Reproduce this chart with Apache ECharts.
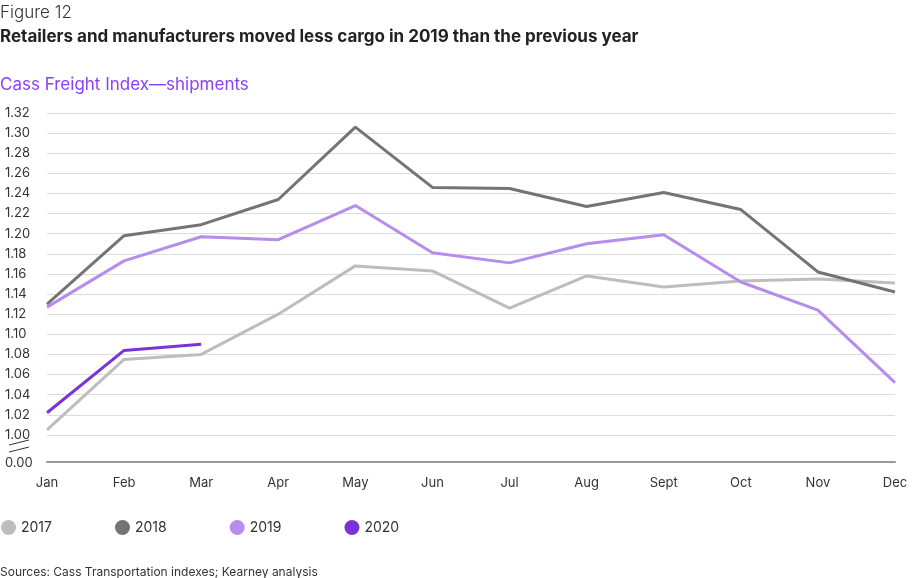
<!DOCTYPE html>
<html><head><meta charset="utf-8">
<script src="https://cdn.jsdelivr.net/npm/echarts@6/dist/echarts.min.js"></script>
<style>html,body{margin:0;padding:0;background:#fff}#c{width:920px;height:578px}</style>
</head><body><div id="c"></div>
<script>
const months = ['Jan','Feb','Mar','Apr','May','Jun','Jul','Aug','Sept','Oct','Nov','Dec'];
const s2017 = [1.005,1.075,1.080,1.120,1.168,1.163,1.126,1.158,1.147,1.153,1.155,1.151];
const s2018 = [1.130,1.198,1.209,1.234,1.306,1.246,1.245,1.227,1.241,1.224,1.162,1.142];
const s2019 = [1.127,1.173,1.197,1.194,1.228,1.181,1.171,1.190,1.199,1.152,1.124,1.052];
const s2020 = [1.022,1.084,1.090];
const yMin = 0.98, yMax = 1.32, yStep = 0.02;
const font = 'Inter, Roboto, "Noto Sans", sans-serif';
const chart = echarts.init(document.getElementById('c'));
const mk = (name, data, color) => ({name, type:'line', data, symbol:'none', showSymbol:false,
  lineStyle:{color, width:3}, itemStyle:{color}, emphasis:{disabled:true}});
const nLines = Math.round((yMax - yMin) / yStep) + 1;
const gridColors = Array.from({length:nLines}, (_, i) => i === 0 ? 'rgba(0,0,0,0)' : '#dcdcdc');
chart.setOption({
  animation:false,
  textStyle:{fontFamily:font},
  title:[
    {text:'Figure 12', left:0, top:4, padding:0, textStyle:{fontSize:17, fontWeight:300, color:'#333', fontFamily:font}},
    {text:'Retailers and manufacturers moved less cargo in 2019 than the previous year', left:0, top:28, padding:0, textStyle:{fontSize:17, fontWeight:'bold', color:'#222', fontFamily:font}},
    {text:'Cass Freight Index\u2014shipments', left:0, top:76, padding:0, textStyle:{fontSize:17, fontWeight:'normal', color:'#8a3ffc', fontFamily:font}},
    {text:'Sources: Cass Transportation indexes; Kearney analysis', left:0, top:566, padding:0, textStyle:{fontSize:12, fontWeight:'normal', color:'#333', fontFamily:font}}
  ],
  legend:{left:1, top:520, padding:0, icon:'circle', itemWidth:15, itemHeight:15, itemGap:63,
    textStyle:{fontSize:14, color:'#333', fontFamily:font, width:36},
    data:['2017','2018','2019','2020']},
  grid:{left:47, right:25, top:113, bottom:123},
  xAxis:{type:'category', data:months, boundaryGap:false, offset:7,
    axisLine:{lineStyle:{color:'#999', width:2}}, axisTick:{show:false},
    axisLabel:{color:'#333', fontSize:13, margin:15, fontFamily:font}},
  yAxis:{type:'value', min:yMin, max:yMax, interval:yStep,
    axisLine:{show:false}, axisTick:{show:false},
    splitLine:{lineStyle:{color:gridColors, width:1}},
    axisLabel:{color:'#333', fontSize:13, align:'left', margin:42, fontFamily:font,
      formatter:v => Math.abs(v - yMin) < 1e-6 ? '{z|0.00}' : v.toFixed(2),
      rich:{z:{padding:[16,0,0,0], fontSize:13, color:'#333', fontFamily:font}}}},
  graphic:[
    {type:'line', shape:{x1:9,y1:445,x2:29,y2:440}, style:{stroke:'#333', lineWidth:1}},
    {type:'line', shape:{x1:9,y1:452,x2:29,y2:447}, style:{stroke:'#333', lineWidth:1}}
  ],
  series:[
    mk('2017', s2017, '#bdbdbd'),
    mk('2018', s2018, '#747474'),
    mk('2019', s2019, '#b68cec'),
    mk('2020', s2020, '#7c32d9')
  ]
});
</script></body></html>
